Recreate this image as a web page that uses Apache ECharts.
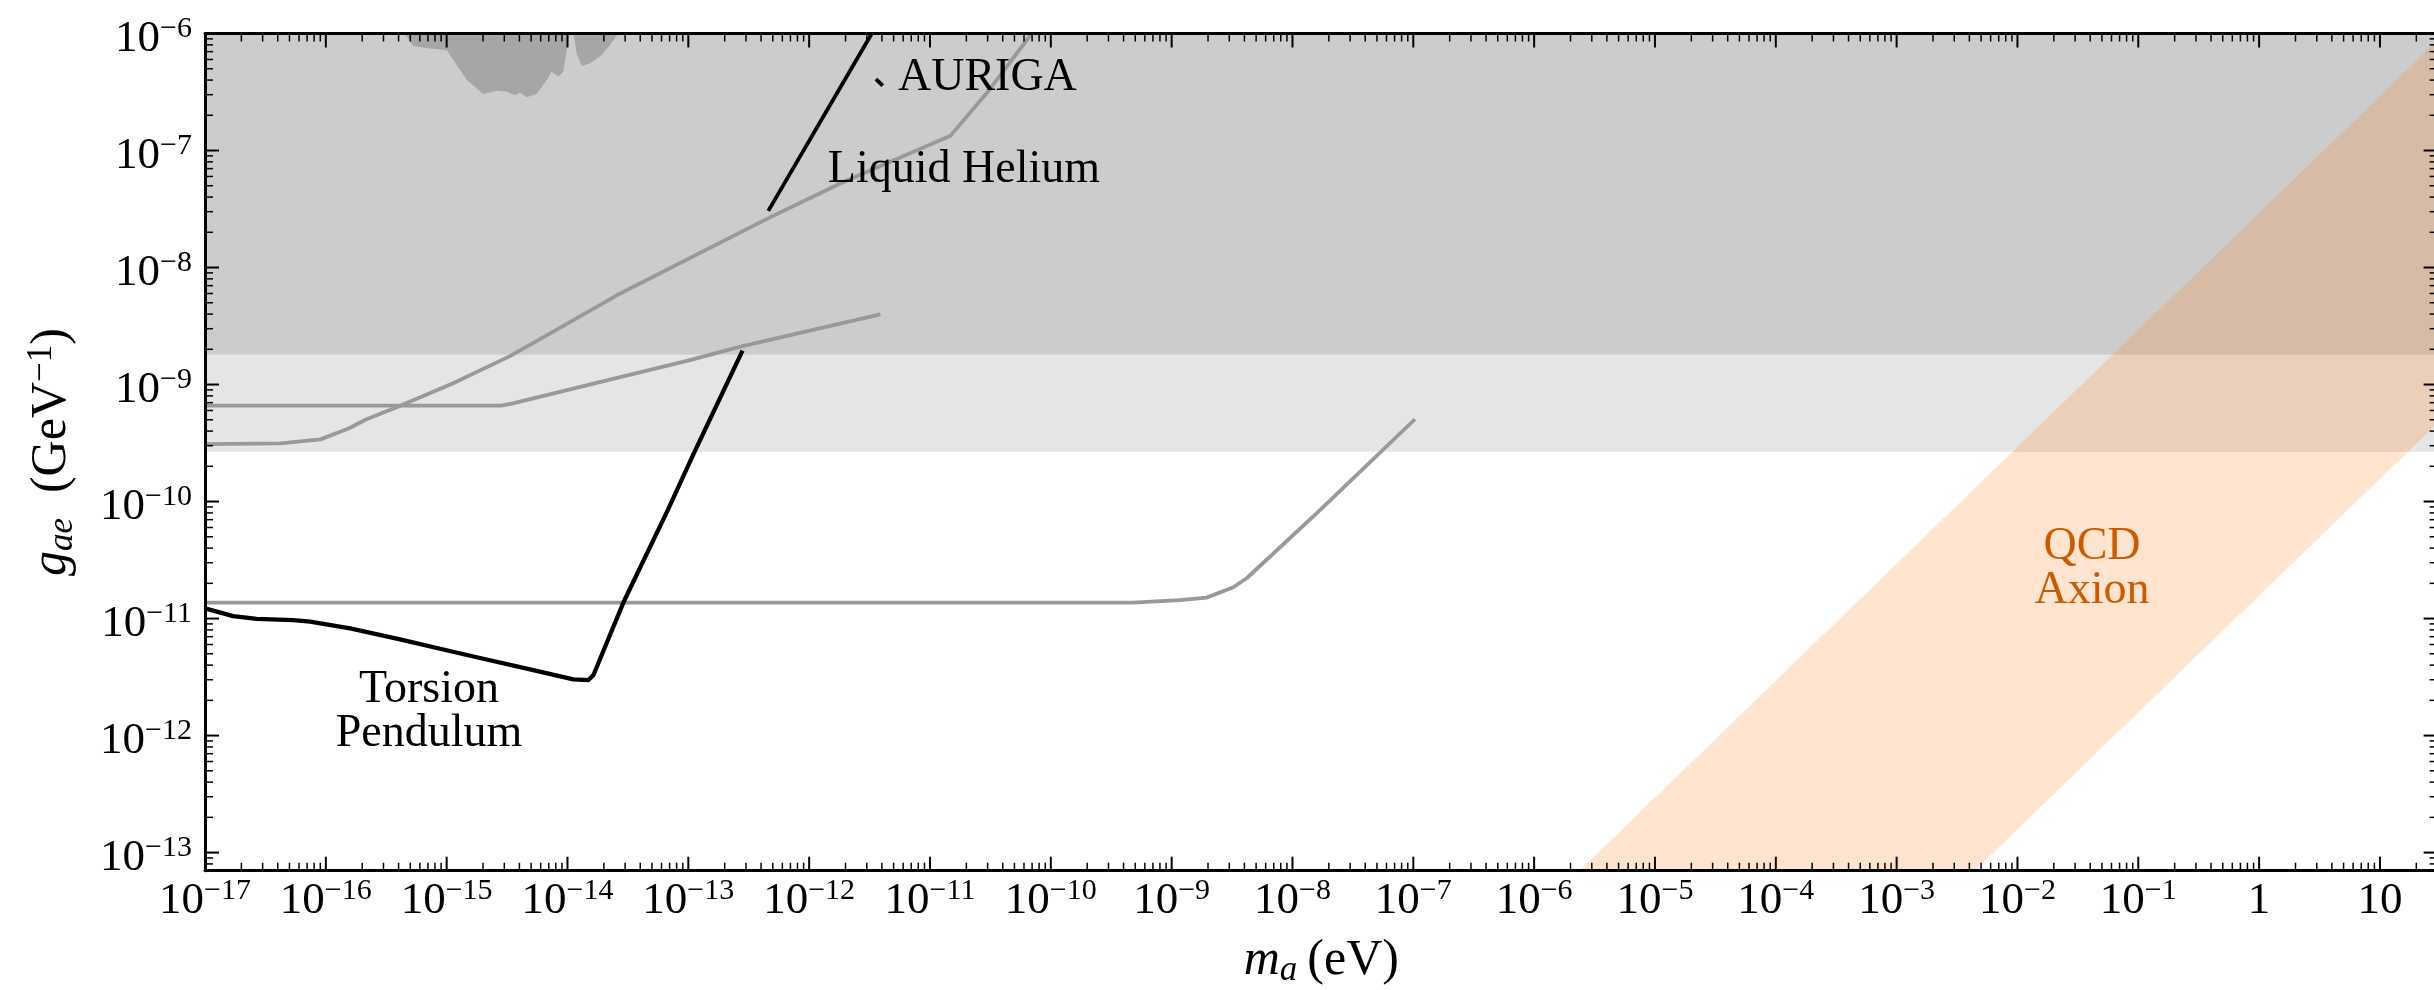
<!DOCTYPE html>
<html>
<head>
<meta charset="utf-8">
<script src="https://cdn.jsdelivr.net/npm/echarts@6/dist/echarts.min.js"></script>
<style>
html,body{margin:0;padding:0;background:#ffffff;}
#chart{width:2434px;height:990px;}
</style>
</head>
<body>
<div id="chart"></div>
<script>
// ================= DATA (m_a in eV, g_ae in GeV^-1) =================
const xRange = [1e-17, 30];
const yRange = [7e-14, 1e-6];

const xTickValues = [1e-17,1e-16,1e-15,1e-14,1e-13,1e-12,1e-11,1e-10,1e-9,1e-8,1e-7,1e-6,1e-5,1e-4,1e-3,1e-2,1e-1,1,10];
const yTickValues = [1e-13,1e-12,1e-11,1e-10,1e-9,1e-8,1e-7,1e-6];

// excluded bands (lower edge of each shaded region, extending to the top)
const darkBandFloor = 1.81e-9;
const lightBandFloor = 2.67e-10;

// long gray curve
const grayCurveA = [
  [1e-17, 3.10e-10], [4.21e-17, 3.14e-10], [9.04e-17, 3.40e-10], [1.56e-16, 4.23e-10],
  [2.17e-16, 5.05e-10], [3.95e-16, 6.46e-10], [1.12e-15, 1.02e-9], [3.34e-15, 1.75e-9],
  [8.02e-15, 2.92e-9], [2.58e-14, 5.82e-9], [4.56e-13, 2.63e-8], [1.86e-12, 5.31e-8],
  [1.48e-11, 1.34e-7], [2.94e-11, 3.08e-7], [6.95e-11, 1.0e-6]
];
// middle gray curve
const grayCurveB = [
  [1e-17, 6.59e-10], [2.84e-15, 6.59e-10], [3.53e-15, 6.90e-10], [1.92e-14, 1.06e-9],
  [9.93e-14, 1.60e-9], [2.65e-13, 2.10e-9], [9.89e-13, 2.88e-9], [3.89e-12, 3.98e-9]
];
// lowest gray curve
const grayCurveC = [
  [1e-17, 1.37e-11], [4.79e-10, 1.37e-11], [1.17e-9, 1.44e-11], [1.95e-9, 1.51e-11],
  [3.24e-9, 1.85e-11], [4.18e-9, 2.21e-11], [1.69e-8, 8.45e-11], [1.03e-7, 5.05e-10]
];
// torsion pendulum (black)
const torsionPendulum = [
  [1e-17, 1.22e-11], [1.71e-17, 1.05e-11], [2.68e-17, 9.95e-12], [5.38e-17, 9.70e-12],
  [7.40e-17, 9.40e-12], [1.59e-16, 8.24e-12], [4.11e-16, 6.64e-12], [1.47e-15, 4.88e-12],
  [5.21e-15, 3.63e-12], [1.12e-14, 3.02e-12], [1.49e-14, 2.98e-12], [1.64e-14, 3.29e-12],
  [2.90e-14, 1.37e-11], [6.76e-14, 8.45e-11], [1.11e-13, 2.58e-10], [2.81e-13, 1.95e-9]
];
// upper black segment
const blackSegment = [[4.59e-13, 3.05e-8], [3.30e-12, 1.0e-6]];
// AURIGA mark
const aurigaMark = [[3.57e-12, 4.08e-7], [4.06e-12, 3.58e-7]];
// darker gray excluded region at the top
const topBlob = [
  [4.44e-16, 1e-6], [5.30e-16, 7.82e-7], [7.28e-16, 7.45e-7], [1.0e-15, 7.23e-7],
  [1.29e-15, 4.88e-7], [1.47e-15, 4.01e-7], [2.01e-15, 3.04e-7], [2.59e-15, 3.24e-7],
  [3.14e-15, 3.18e-7], [3.68e-15, 2.96e-7], [4.05e-15, 3.12e-7], [4.59e-15, 2.85e-7],
  [5.56e-15, 3.04e-7], [6.73e-15, 4.01e-7], [7.40e-15, 4.72e-7], [8.39e-15, 4.28e-7],
  [9.23e-15, 4.72e-7], [9.84e-15, 7.23e-7], [1.035e-14, 1e-6]
];
const topBlob2 = [
  [1.12e-14, 1e-6], [1.19e-14, 6.78e-7], [1.31e-14, 5.27e-7], [1.54e-14, 5.56e-7],
  [1.92e-14, 6.55e-7], [2.25e-14, 7.98e-7], [2.63e-14, 1e-6]
];
// QCD axion band (visible polygon)
const qcdBand = [[2.37e-6, 7e-14], [4.41e-3, 7e-14], [30, 4.70e-10], [30, 8.75e-7]];

// text annotations (anchor in data units)
const annotations = [
  {text: 'AURIGA', m: 5.43e-12, g: 4.17e-7, align: 'left', color: '#000000'},
  {text: 'Liquid Helium', m: 1.91e-11, g: 6.81e-8, align: 'center', color: '#000000'},
  {text: 'Torsion\nPendulum', m: 7.14e-16, g: 1.585e-12, align: 'center', color: '#000000'},
  {text: 'QCD\nAxion', m: 0.0414, g: 2.67e-11, align: 'center', color: '#cc5a00'}
];

// ================= CHART =================
const L = Math.log10;
const toLog = arr => arr.map(p => [L(p[0]), L(p[1])]);
const X_MIN = L(xRange[0]), X_MAX = L(xRange[1]);
const Y_MIN = L(yRange[0]), Y_MAX = L(yRange[1]);
const FONT = "'Liberation Serif','Times New Roman',serif";

const xTickExp = xTickValues.map(v => Math.round(L(v)));
const yTickExp = yTickValues.map(v => Math.round(L(v)));

function makeFormatter(exps) {
  return function (v) {
    const r = Math.round(v);
    if (Math.abs(v - r) > 1e-6 || exps.indexOf(r) < 0) return '';
    if (r === 0) return '{b|1}';
    if (r === 1) return '{b|10}';
    return '{b|10}{s|' + (r < 0 ? '\u2212' : '') + Math.abs(r) + '}';
  };
}
const tickRich = {
  b: {fontSize: 45, fontFamily: FONT, color: '#000', lineHeight: 50},
  s: {fontSize: 30, fontFamily: FONT, color: '#000', lineHeight: 29, verticalAlign: 'top'}
};

// tick marks for all four sides
function logTicks(lo, hi) {
  const out = [];
  for (let n = Math.floor(lo); n <= Math.floor(hi); n++) {
    for (let k = 1; k <= 9; k++) {
      const v = n + L(k);
      if (v >= lo - 1e-9 && v <= hi + 1e-9) out.push([v, k === 1 ? 1 : 0]);
    }
  }
  return out;
}
const tickData = [];
logTicks(X_MIN, X_MAX).forEach(t => { tickData.push([t[0], 0, t[1]]); tickData.push([t[0], 1, t[1]]); });
logTicks(Y_MIN, Y_MAX).forEach(t => { tickData.push([t[0], 2, t[1]]); tickData.push([t[0], 3, t[1]]); });

function polygonSeries(name, pts, color, z) {
  const lp = toLog(pts);
  return {
    type: 'custom', name: name, z: z, silent: true, animation: false,
    coordinateSystem: 'cartesian2d', xAxisIndex: 0, yAxisIndex: 0,
    data: [lp[0]],
    renderItem: function (params, api) {
      return {type: 'polygon', shape: {points: lp.map(p => api.coord(p))}, style: {fill: color}};
    }
  };
}
function lineSeries(name, pts, color, width, z) {
  return {
    type: 'line', name: name, data: toLog(pts), showSymbol: false, symbol: 'none',
    lineStyle: {color: color, width: width, cap: 'butt', join: 'round'},
    z: z, silent: true, animation: false, clip: true
  };
}

const darkBand = [[xRange[0], darkBandFloor], [xRange[1], darkBandFloor], [xRange[1], yRange[1]], [xRange[0], yRange[1]]];
const lightBand = [[xRange[0], lightBandFloor], [xRange[1], lightBandFloor], [xRange[1], yRange[1]], [xRange[0], yRange[1]]];

const series = [
  polygonSeries('lightBand', lightBand, '#e5e5e5', 1),
  polygonSeries('darkBand', darkBand, '#cccccc', 2),
  polygonSeries('blob1', topBlob, '#a6a6a6', 3),
  polygonSeries('blob2', topBlob2, '#a6a6a6', 3),
  lineSeries('grayA', grayCurveA, '#999999', 3.8, 4),
  lineSeries('grayB', grayCurveB, '#999999', 3.8, 4),
  lineSeries('grayC', grayCurveC, '#999999', 3.8, 4),
  lineSeries('torsion', torsionPendulum, '#000000', 4.3, 5),
  lineSeries('blackSeg', blackSegment, '#000000', 3.8, 5),
  lineSeries('auriga', aurigaMark, '#000000', 3.8, 5),
  polygonSeries('qcd', qcdBand, 'rgba(255,127,14,0.2)', 6),
  {
    type: 'custom', name: 'ticks', z: 11, silent: true, animation: false,
    coordinateSystem: 'cartesian2d', data: tickData,
    renderItem: function (params, api) {
      const v = api.value(0), side = api.value(1), major = api.value(2);
      const len = major ? 14 : 8;
      let p, q;
      if (side === 0) { p = api.coord([v, Y_MIN]); q = [p[0], p[1] - len]; }
      else if (side === 1) { p = api.coord([v, Y_MAX]); q = [p[0], p[1] + len]; }
      else if (side === 2) { p = api.coord([X_MIN, v]); q = [p[0] + len, p[1]]; }
      else { p = api.coord([X_MAX, v]); q = [p[0] - len, p[1]]; }
      return {type: 'line', shape: {x1: p[0], y1: p[1], x2: q[0], y2: q[1]},
              style: {stroke: '#000', lineWidth: major ? 2 : 1.5}};
    }
  },
  {
    type: 'custom', name: 'annotations', z: 12, silent: true, animation: false,
    coordinateSystem: 'cartesian2d',
    data: annotations.map((a, i) => [L(a.m), L(a.g), i]),
    renderItem: function (params, api) {
      const a = annotations[api.value(2)];
      const p = api.coord([api.value(0), api.value(1)]);
      return {type: 'text', x: p[0], y: p[1],
        style: {text: a.text, fill: a.color, font: "46px 'Liberation Serif'",
                fontSize: 46, fontFamily: 'Liberation Serif',
                align: a.align, verticalAlign: 'middle', lineHeight: 44}};
    }
  }
];

const axisLineStyle = {show: true, onZero: false, lineStyle: {color: '#000', width: 3}};

const option = {
  backgroundColor: '#ffffff',
  animation: false,
  grid: {left: 205, top: 33.5, width: 2232.6, height: 837.2, outerBoundsMode: 'none', containLabel: false},
  xAxis: [
    {
      type: 'value', min: X_MIN, max: X_MAX, interval: 1, position: 'bottom', z: 10,
      axisLine: axisLineStyle, axisTick: {show: false}, splitLine: {show: false},
      axisLabel: {formatter: makeFormatter(xTickExp), rich: tickRich, margin: 5, hideOverlap: false,
                  showMinLabel: true, showMaxLabel: false},
      name: '{i|m}{sub|a}{r|\u2009(eV)}', nameLocation: 'middle', nameGap: 62,
      nameTextStyle: {rich: {
        i: {fontFamily: FONT, fontStyle: 'italic', fontSize: 50, lineHeight: 56, color: '#000'},
        sub: {fontFamily: FONT, fontStyle: 'italic', fontSize: 35, lineHeight: 35, verticalAlign: 'bottom', color: '#000'},
        r: {fontFamily: FONT, fontSize: 50, lineHeight: 56, color: '#000'}
      }}
    },
    {
      type: 'value', min: X_MIN, max: X_MAX, position: 'top', z: 10,
      axisLine: axisLineStyle, axisTick: {show: false}, splitLine: {show: false}, axisLabel: {show: false}
    }
  ],
  yAxis: [
    {
      type: 'value', min: Y_MIN, max: Y_MAX, splitNumber: 7, position: 'left', z: 10,
      axisLine: axisLineStyle, axisTick: {show: false}, splitLine: {show: false},
      axisLabel: {formatter: makeFormatter(yTickExp), rich: tickRich, margin: 13, hideOverlap: false,
                  padding: [12, 0, 0, 0]},
      name: '{i|g}{sub|ae}{r|\u2002(GeV}{sup|\u22121}{r|)}', nameLocation: 'middle', nameGap: 125,
      nameRotate: 90,
      nameTextStyle: {rich: {
        i: {fontFamily: FONT, fontStyle: 'italic', fontSize: 50, lineHeight: 56, color: '#000'},
        sub: {fontFamily: FONT, fontStyle: 'italic', fontSize: 35, lineHeight: 35, verticalAlign: 'bottom', color: '#000'},
        sup: {fontFamily: FONT, fontSize: 35, lineHeight: 35, verticalAlign: 'top', color: '#000'},
        r: {fontFamily: FONT, fontSize: 50, lineHeight: 56, color: '#000'}
      }}
    },
    {
      type: 'value', min: Y_MIN, max: Y_MAX, position: 'right', z: 10,
      axisLine: axisLineStyle, axisTick: {show: false}, splitLine: {show: false}, axisLabel: {show: false}
    }
  ],
  series: series
};

const chart = echarts.init(document.getElementById('chart'), null, {renderer: 'canvas'});
chart.setOption(option);
</script>
</body>
</html>
